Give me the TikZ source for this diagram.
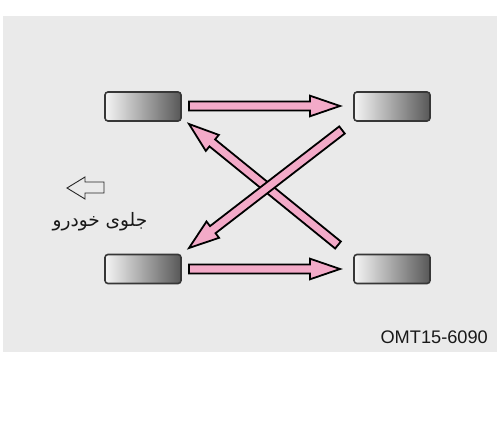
\documentclass[tikz,border=0pt]{standalone}
\usepackage{fontspec}
\setmainfont{Liberation Sans}
\newfontfamily\arabicfont[Script=Arabic]{DejaVu Sans}
\TeXXeTstate=1
\usetikzlibrary{calc}
\definecolor{bg}{RGB}{234,234,234}
\definecolor{pinkfill}{RGB}{243,170,200}
\definecolor{tireedge}{RGB}{55,55,55}
\definecolor{tiredark}{RGB}{88,88,88}
\definecolor{textdark}{RGB}{25,25,25}
\newcommand\fatarrow[2]{%
  \draw[fatarr] let \p1=(#1), \p2=(#2),
    \n1={atan2(\y2-\y1,\x2-\x1)}, \n2={veclen(\x2-\x1,\y2-\y1)} in
    [shift={(\p1)}, rotate=\n1]
    (0pt,-4.5pt) -- (\n2-30pt,-4.5pt) -- (\n2-30pt,-10.3pt) -- (\n2,0pt)
    -- (\n2-30pt,10.3pt) -- (\n2-30pt,4.5pt) -- (0pt,4.5pt) -- cycle;}
\begin{document}
\begin{tikzpicture}[x=1pt,y=-1pt,
  tire/.style={draw=tireedge, line width=1.6pt, rounded corners=3pt,
    left color=white!96!black, right color=tiredark,
    minimum width=76pt, minimum height=29pt, inner sep=0pt},
  fatarr/.style={draw=black, fill=pinkfill, line width=1.8pt, line join=miter}]
\useasboundingbox (0,0) rectangle (500,422);
\fill[bg] (3,16) rectangle (497,352);
% tires
\node[tire] (tl) at (143,106.5) {};
\node[tire] (tr) at (392,106.5) {};
\node[tire] (bl) at (143,269) {};
\node[tire] (br) at (392,269) {};
% arrow ends
\coordinate (a1s) at (189,106);
\coordinate (a1e) at (340,106);
\coordinate (a2s) at (189,269);
\coordinate (a2e) at (340,269);
\coordinate (a3s) at (338,245);
\coordinate (a3e) at (189,124);
\coordinate (a4s) at (342,130);
\coordinate (a4e) at (189,248);
\fatarrow{a1s}{a1e}
\fatarrow{a2s}{a2e}
\fatarrow{a3s}{a3e}
\fatarrow{a4s}{a4e}
% front indicator
\draw[line width=0.9pt, draw=black!85] (67,188) -- (85,177) -- (85,182) -- (104,182)
  -- (104,193) -- (85,193) -- (85,199) -- cycle;
\node[font=\arabicfont\fontsize{18.5}{22}\selectfont, text=textdark] (front) at (100,222)
  {\beginR جلوی خودرو\endR};
\node[anchor=base east, font=\fontsize{18.2}{21}\selectfont, text=textdark, inner sep=0pt]
  (code) at (488,343) {OMT15-6090};
\end{tikzpicture}
\end{document}
